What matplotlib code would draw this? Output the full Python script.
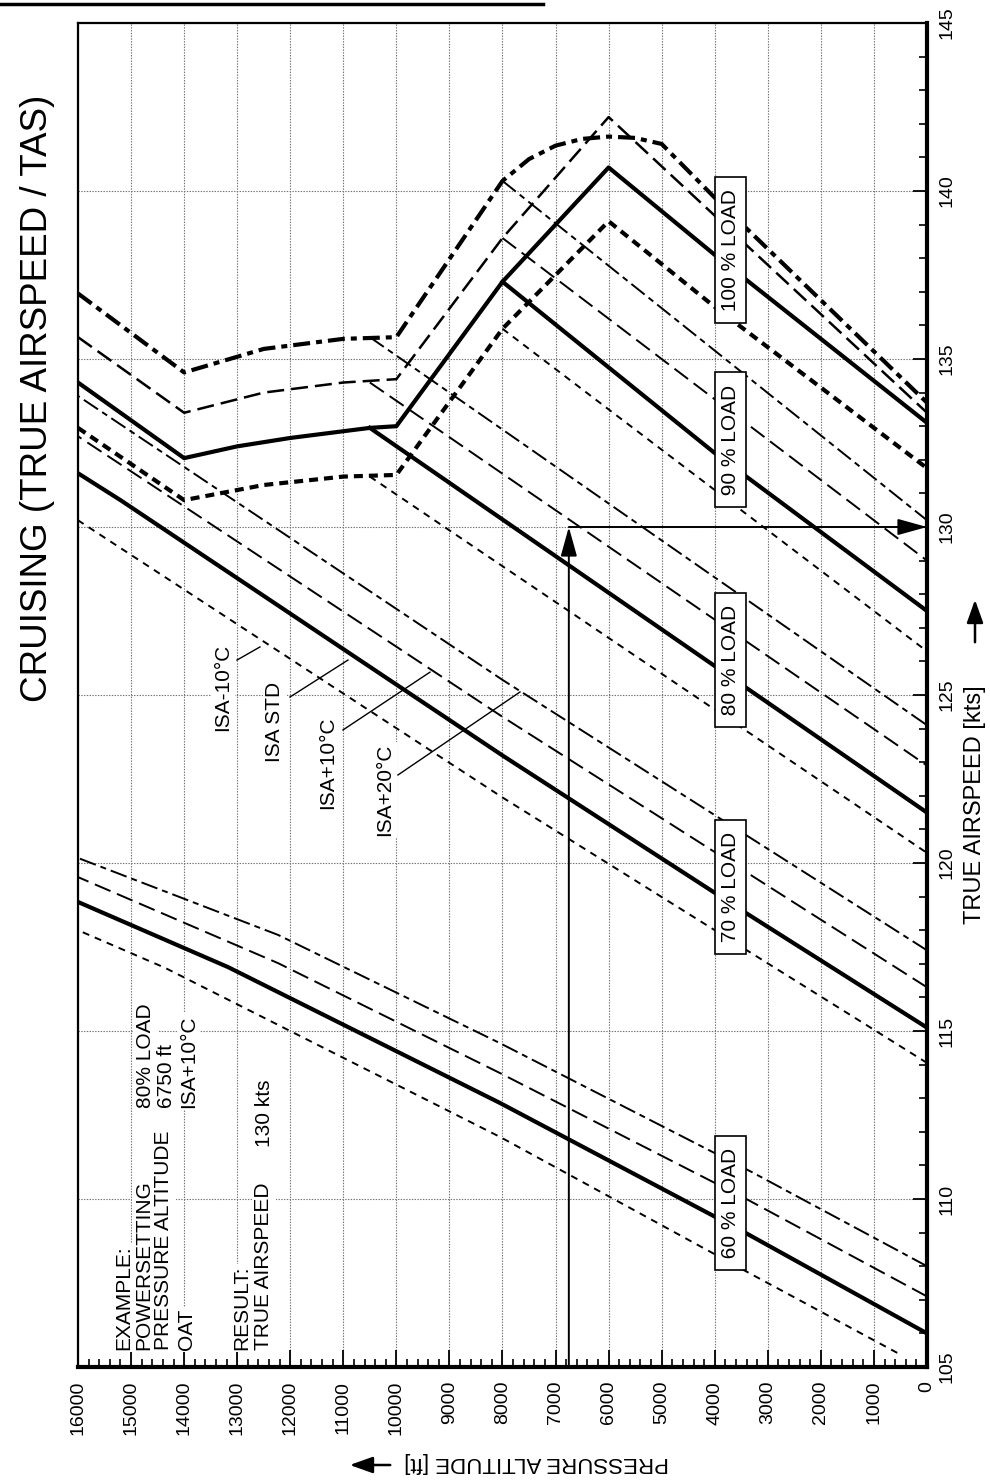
import numpy as np
import matplotlib
matplotlib.use('Agg')
import matplotlib.pyplot as plt
from matplotlib.lines import Line2D
from matplotlib.patches import FancyArrowPatch

plt.rcParams['font.family'] = ['Liberation Sans', 'DejaVu Sans']
plt.rcParams['lines.scale_dashes'] = False

# pressure altitude [ft] and true airspeed [kts]
temps = ['ISA-10', 'ISA STD', 'ISA+10', 'ISA+20']

# upper curves (power limit, 100 % load)
top_alt = [
    [16000, 14000, 12500, 11000, 10000, 8000, 6000, 4000, 0],
    [16000, 14000, 13000, 12000, 11000, 10500, 10000, 8000, 6000, 4000, 0],
    [16000, 14000, 12500, 11000, 10000, 8000, 6000, 0],
    [16000, 14000, 12500, 11000, 10000, 8000, 7500, 7000, 6500, 6000, 5500, 5000, 4000, 0],
]
top_tas = [
    [132.95, 130.8, 131.25, 131.5, 131.55, 135.9, 139.1, 136.55, 131.75],
    [134.3, 132.05, 132.4, 132.65, 132.85, 132.95, 133.0, 137.3, 140.7, 138.1, 133.1],
    [135.65, 133.4, 134.0, 134.3, 134.4, 138.6, 142.2, 133.4],
    [136.95, 134.6, 135.3, 135.6, 135.65, 140.3, 140.95, 141.35, 141.55, 141.62, 141.58, 141.4, 139.8, 133.7],
]

# 90 % load
p90_alt = [[8000, 0], [8000, 4000, 0], [8000, 0], [8000, 0]]
p90_tas = [[135.9, 126.3], [137.3, 132.2, 127.5], [138.6, 129.0], [140.3, 130.2]]

# 80 % load
p80_alt = [[10500, 0], [10500, 0], [10500, 0], [10500, 0]]
p80_tas = [[131.5, 120.3], [132.95, 121.5], [134.3, 122.9], [135.65, 124.1]]

# 70 % load
p70_alt = [[0, 8000, 16000], [0, 3400, 8000, 15200, 16000], [0, 8000, 16000], [0, 8000, 16000]]
p70_tas = [[114.05, 121.95, 130.2], [115.1, 118.5, 123.2, 130.8, 131.6],
           [116.3, 124.35, 132.7], [117.4, 125.45, 133.9]]

# 60 % load
p60_alt = [[560, 3390, 8050, 14360, 16000], [0, 3430, 8050, 13170, 16000],
           [0, 3370, 8050, 12230, 16000], [0, 3300, 8050, 12230, 16000]]
p60_tas = [[105.42, 107.83, 111.85, 116.88, 118.0], [106.0, 109.0, 112.86, 116.9, 118.84],
           [107.1, 109.97, 113.75, 117.02, 119.58], [108.0, 110.8, 114.64, 117.86, 120.15]]

load_labels = ['100 % LOAD', '90 % LOAD', '80 % LOAD', '70 % LOAD', '60 % LOAD']
load_label_tas = [138.24, 132.6, 126.04, 119.29, 109.88]
load_label_alt = 3700

example_alt = 6750
example_tas = 130

px = 0.72  # points per pixel at 100 dpi
thin = {
    'ISA-10': dict(lw=1.4, dashes=(7 * px, 6 * px)),
    'ISA STD': dict(lw=3.0, linestyle='-'),
    'ISA+10': dict(lw=1.4, dashes=(17 * px, 7 * px)),
    'ISA+20': dict(lw=1.4, dashes=(17 * px, 5 * px, 6 * px, 5 * px)),
}
heavy = {
    'ISA-10': dict(lw=3.0, dashes=(9 * px, 6 * px)),
    'ISA STD': dict(lw=3.0, linestyle='-'),
    'ISA+10': dict(lw=1.8, dashes=(17 * px, 7 * px)),
    'ISA+20': dict(lw=3.0, dashes=(17 * px, 6 * px, 6 * px, 6 * px)),
}

fig = plt.figure(figsize=(9.9, 14.81), dpi=100)
ax = fig.add_axes([78 / 990, 114 / 1481, 849 / 990, 1344 / 1481])

for i, t in enumerate(temps):
    ax.plot(top_alt[i], top_tas[i], color='k', zorder=3, **heavy[t])
    for alts, tass in [(p90_alt, p90_tas), (p80_alt, p80_tas), (p70_alt, p70_tas), (p60_alt, p60_tas)]:
        ax.plot(alts[i], tass[i], color='k', zorder=3, **thin[t])

for lab, tas in zip(load_labels, load_label_tas):
    ax.text(load_label_alt, tas, ' ' + lab + ' ', rotation=90, ha='center', va='center',
            fontsize=15, zorder=5,
            bbox=dict(boxstyle='square,pad=0.3', fc='white', ec='k', lw=1.2))

# example arrows
arw = dict(arrowstyle='-|>,head_length=0.9,head_width=0.25', color='k', lw=1.4,
           mutation_scale=20, shrinkA=0, shrinkB=0)
ax.annotate('', xy=(example_alt, example_tas), xytext=(example_alt, 105), arrowprops=arw, zorder=4)
ax.annotate('', xy=(0, example_tas), xytext=(example_alt, example_tas), arrowprops=arw, zorder=4)

# temperature labels with leaders
isa_text = ['ISA-10°C', 'ISA STD', 'ISA+10°C', 'ISA+20°C']
isa_pos = [(13268, 125.24), (12288, 124.2), (11289, 122.98), (10215, 122.17)]
isa_from = [(13004, 126.04), (12005, 124.94), (11006, 123.96), (9970, 122.62)]
isa_to = [(12571, 126.43), (10912, 126.04), (9367, 125.68), (7670, 125.09)]
for txt, p, a, b in zip(isa_text, isa_pos, isa_from, isa_to):
    ax.text(p[0], p[1], txt, rotation=90, ha='center', va='center', fontsize=15, zorder=5,
            bbox=dict(boxstyle='square,pad=0.1', fc='white', ec='none'))
    ax.plot([a[0], b[0]], [a[1], b[1]], color='k', lw=1.0, zorder=4)

# example text block
ex_left = ['EXAMPLE:', 'POWERSETTING', 'PRESSURE ALTITUDE', 'OAT', 'RESULT:', 'TRUE AIRSPEED']
ex_left_alt = [15134, 14757, 14380, 13960, 12910, 12495]
ex_right = ['80% LOAD', '6750 ft', 'ISA+10°C', '130 kts']
ex_right_alt = [14719, 14330, 13920, 12476]
ex_right_tas = [112.71, 112.71, 112.71, 111.55]
for txt, a in zip(ex_left, ex_left_alt):
    ax.text(a, 105.5, txt, rotation=90, rotation_mode='anchor', ha='left', va='center',
            fontsize=15, zorder=5, bbox=dict(boxstyle='square,pad=0.1', fc='white', ec='none'))
for txt, a, t in zip(ex_right, ex_right_alt, ex_right_tas):
    ax.text(a, t, txt, rotation=90, rotation_mode='anchor', ha='left', va='center',
            fontsize=15, zorder=5, bbox=dict(boxstyle='square,pad=0.1', fc='white', ec='none'))

ax.set_xlim(16000, 0)
ax.set_ylim(105, 145)
ax.set_xticks(np.arange(0, 16001, 1000))
ax.set_xticks(np.arange(0, 16001, 200), minor=True)
ax.set_yticks(np.arange(105, 146, 5))
ax.set_yticks(np.arange(105, 146, 1), minor=True)
ax.yaxis.tick_right()
ax.tick_params(axis='x', which='major', direction='in', length=12, width=1.3, pad=10,
               labelrotation=90, labelsize=14)
ax.tick_params(axis='x', which='minor', direction='in', length=6, width=1.2)
ax.tick_params(axis='y', which='major', direction='in', length=10, width=1.3, pad=8,
               labelrotation=90, labelsize=14)
ax.tick_params(axis='y', which='minor', direction='in', length=6, width=1.2)
for lab in ax.get_yticklabels():
    lab.set_va('center')
ax.grid(True, which='major', color='0.45', lw=0.8, linestyle=(0, (1, 1)), zorder=0)
ax.set_axisbelow(True)
ax.spines['left'].set_linewidth(1.6)
ax.spines['top'].set_linewidth(1.6)
ax.spines['bottom'].set_linewidth(3.0)
ax.spines['right'].set_linewidth(3.0)

# titles and axis names, rotated like the page
fig.text(38 / 990, 1 - 398 / 1481, 'CRUISING (TRUE AIRSPEED / TAS)', rotation=90,
         ha='center', va='center', fontsize=26.5)
fig.text(537 / 990, 1 - 1463 / 1481, 'PRESSURE ALTITUDE [ft]', rotation=180,
         ha='center', va='center', fontsize=16)
fig.text(975 / 990, 1 - 805 / 1481, 'TRUE AIRSPEED [kts]', rotation=90,
         ha='center', va='center', fontsize=17)
fig.add_artist(Line2D([0, 543 / 990], [1 - 4 / 1481, 1 - 4 / 1481], color='k', lw=2.5))
fig.patches.append(FancyArrowPatch(
    (393 / 990, 1 - 1465 / 1481), (347 / 990, 1 - 1465 / 1481), transform=fig.transFigure,
    arrowstyle='-|>,head_length=0.7,head_width=0.25', mutation_scale=20, color='k', lw=1.8))
fig.patches.append(FancyArrowPatch(
    (975 / 990, 1 - 645 / 1481), (975 / 990, 1 - 597 / 1481), transform=fig.transFigure,
    arrowstyle='-|>,head_length=0.7,head_width=0.25', mutation_scale=20, color='k', lw=1.8))

fig.savefig('out.png', dpi=100)
